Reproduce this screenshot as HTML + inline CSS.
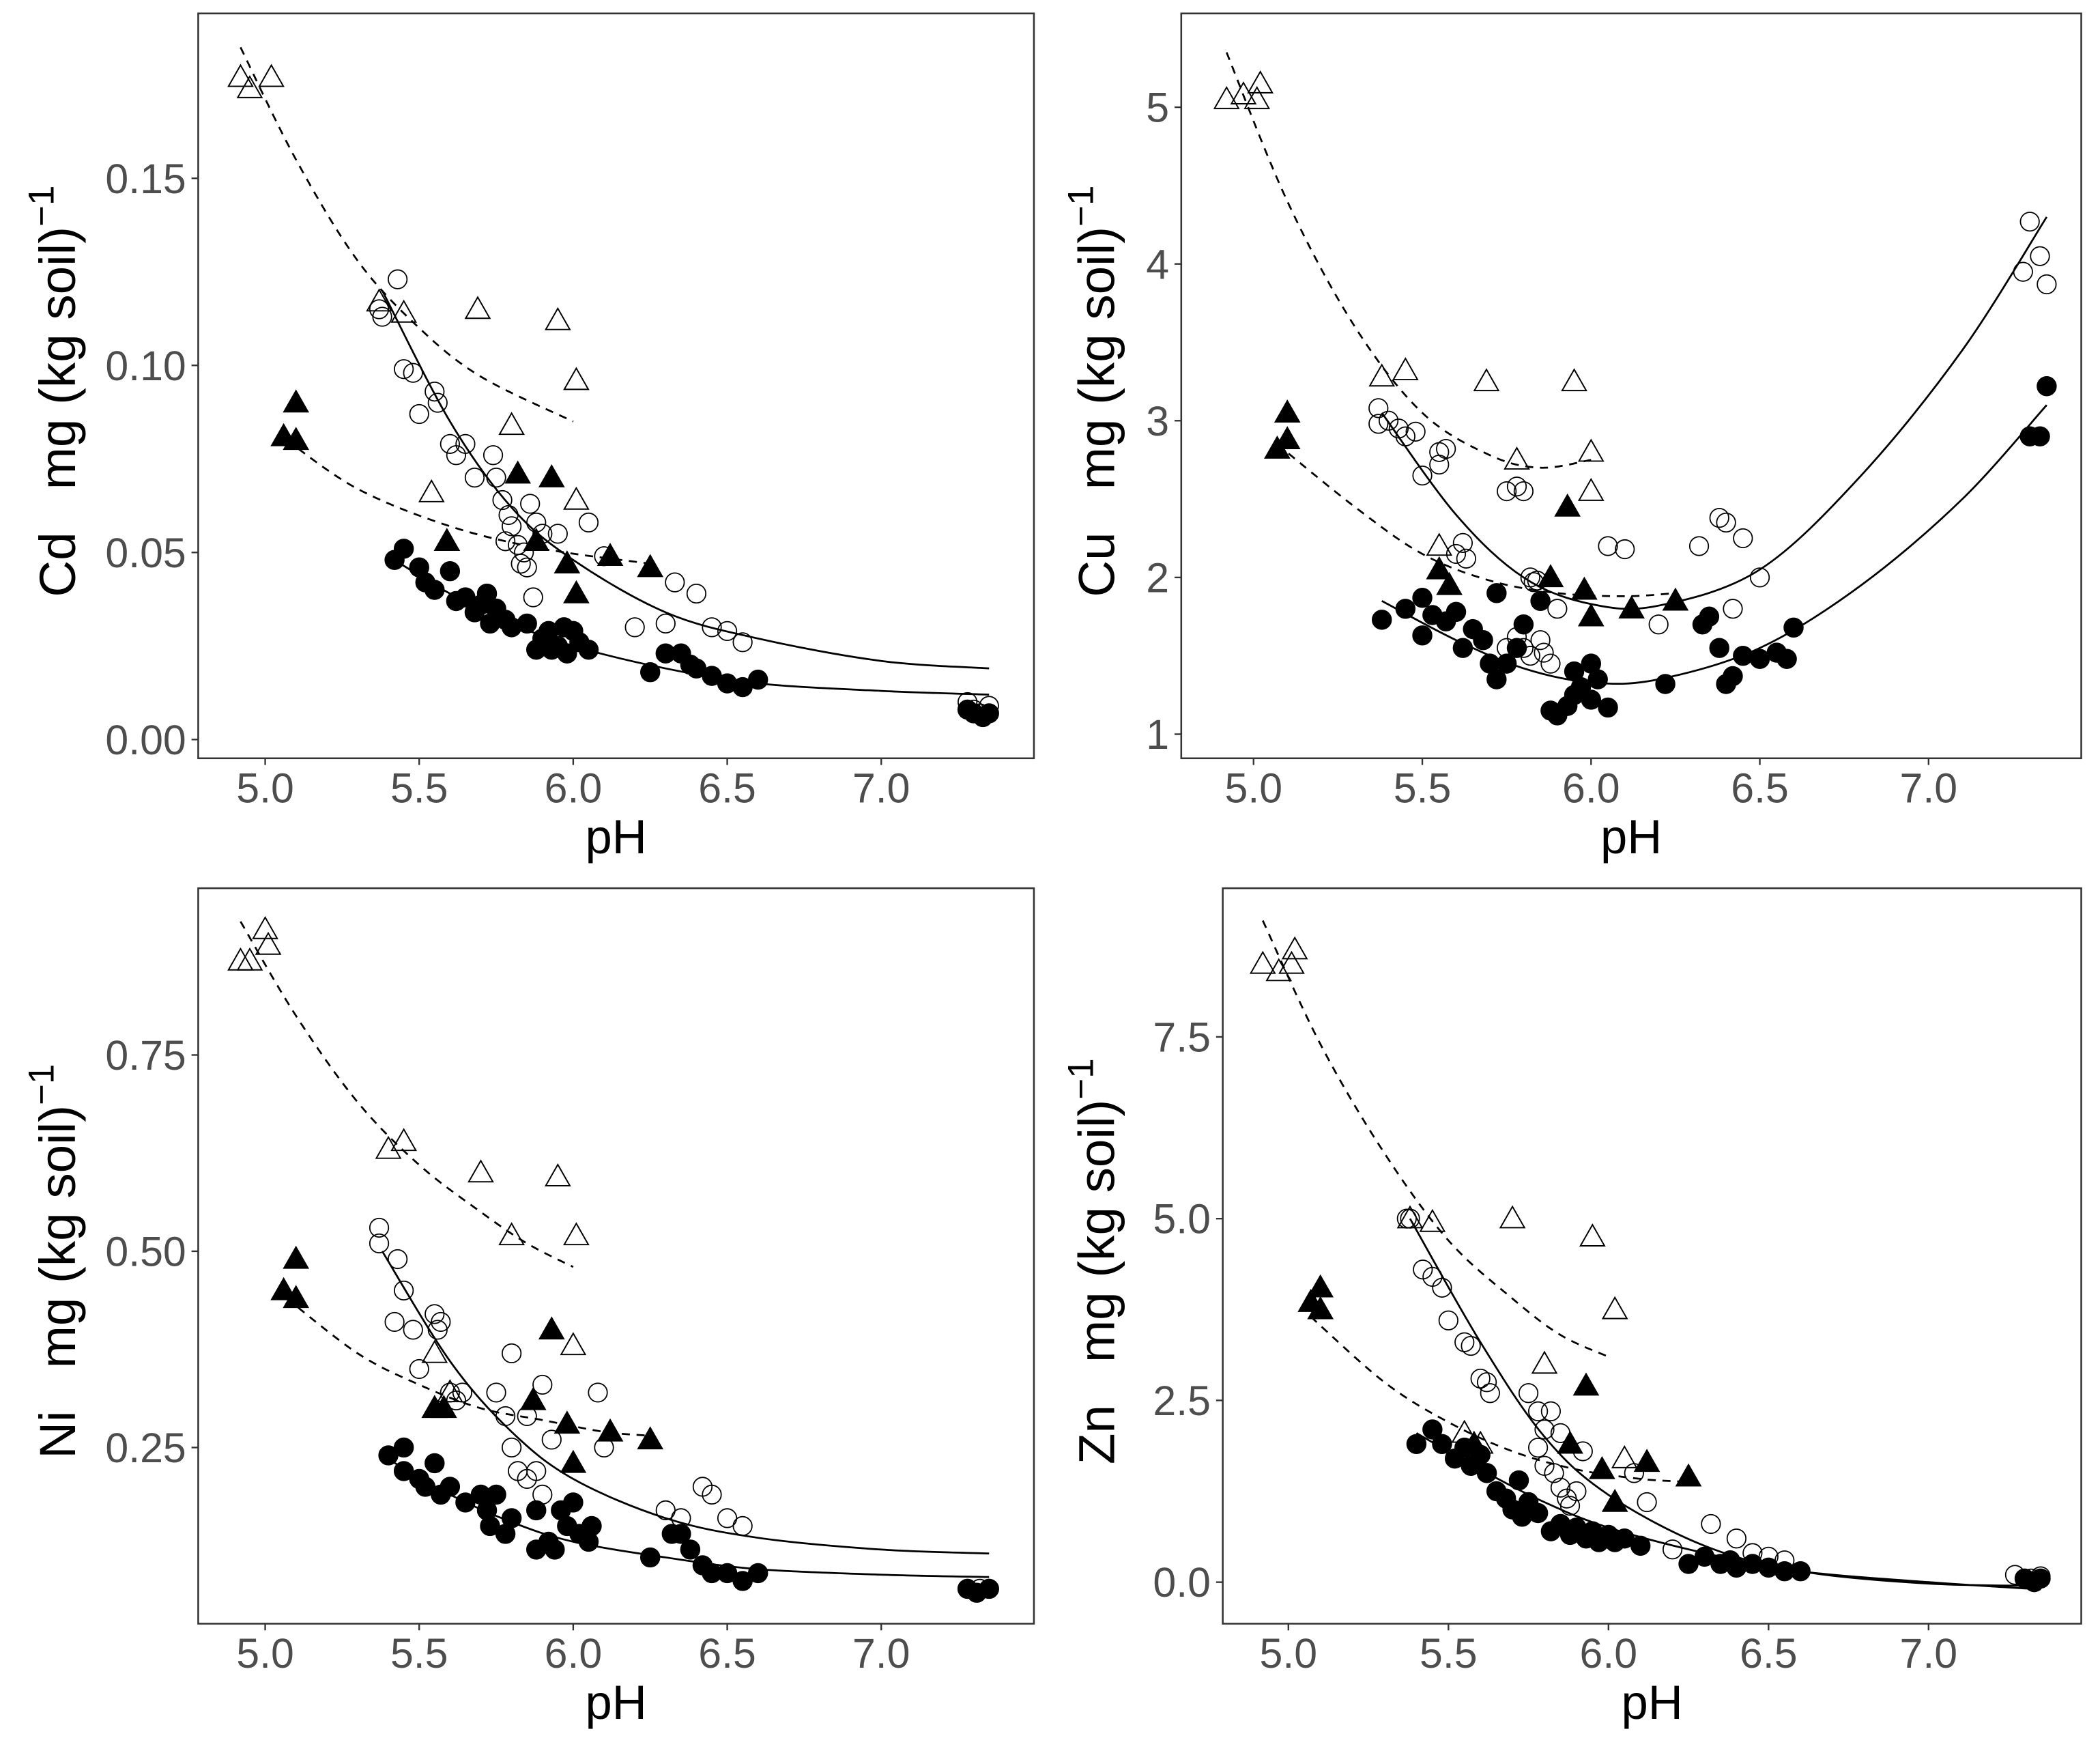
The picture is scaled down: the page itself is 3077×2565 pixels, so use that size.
<!DOCTYPE html>
<html><head><meta charset="utf-8"><style>
html,body{margin:0;padding:0;background:#fff;}
svg{display:block;}
text{font-family:"Liberation Sans",Arial,sans-serif;}
</style></head><body>
<svg id="fig" width="3077" height="2565" viewBox="0 0 1568 1307" xmlns="http://www.w3.org/2000/svg"></svg>
<script>
// ---------- Cd panel data ----------
const cdOpenTriX=[4.92,4.95,5.02,5.45,5.69,5.95,6.01,5.54,5.80,6.01,5.37];
const cdOpenTriY=[0.177,0.174,0.177,0.114,0.115,0.112,0.096,0.066,0.084,0.064,0.117];
const cdFillTriX=[5.10,5.06,5.10,5.59,5.93,5.82,5.88,5.98,6.01,6.12,6.25];
const cdFillTriY=[0.090,0.081,0.080,0.053,0.070,0.071,0.053,0.047,0.039,0.049,0.046];
const cdOpenCircX=[5.37,5.38,5.43,5.45,5.48,5.5,5.55,5.56,5.6,5.62,5.65,5.68,5.74,5.75,5.77,5.79,5.8,5.82,5.84,5.85,5.86,5.88,5.9,5.78,5.83,5.87,5.95,6.05,6.1,6.2,6.3,6.33,6.4,6.45,6.5,6.55,7.28,7.3,7.35,7.32];
const cdOpenCircY=[0.115,0.113,0.123,0.099,0.098,0.087,0.093,0.090,0.079,0.076,0.079,0.070,0.076,0.070,0.064,0.060,0.057,0.052,0.050,0.046,0.063,0.058,0.055,0.053,0.047,0.038,0.055,0.058,0.049,0.030,0.031,0.042,0.039,0.030,0.029,0.026,0.010,0.008,0.009,0.007];
const cdFillCircX=[5.42,5.45,5.5,5.52,5.55,5.6,5.62,5.65,5.68,5.7,5.72,5.73,5.75,5.78,5.8,5.85,5.88,5.9,5.92,5.95,5.97,6.0,6.02,5.93,5.98,6.05,6.25,6.3,6.35,6.38,6.4,6.45,6.5,6.55,6.6,7.3,7.33,7.35,7.28];
const cdFillCircY=[0.048,0.051,0.046,0.042,0.040,0.045,0.037,0.038,0.034,0.036,0.039,0.031,0.035,0.032,0.030,0.031,0.024,0.027,0.029,0.025,0.030,0.029,0.026,0.024,0.023,0.024,0.018,0.023,0.023,0.020,0.019,0.017,0.015,0.014,0.016,0.007,0.006,0.007,0.008];
const cdFitOpenTriX=[4.92,5.1,5.3,5.5,5.7,6.0], cdFitOpenTriY=[0.185,0.155,0.128,0.110,0.097,0.085];
const cdFitFillTriX=[5.07,5.3,5.6,5.9,6.25], cdFitFillTriY=[0.080,0.067,0.057,0.051,0.047];
const cdFitOpenCircX=[5.38,5.6,5.8,6.0,6.3,6.6,7.0,7.35], cdFitOpenCircY=[0.120,0.085,0.062,0.048,0.034,0.027,0.021,0.019];
const cdFitFillCircX=[5.4,5.6,5.8,6.0,6.3,6.6,7.0,7.35], cdFitFillCircY=[0.049,0.039,0.031,0.025,0.019,0.015,0.013,0.012];
const cdYTicks=[0,0.05,0.10,0.15], cdYTickLabels=["0.00","0.05","0.10","0.15"];

// ---------- Cu panel data ----------
const cuOpenTriX=[4.92,4.97,5.02,5.01,5.38,5.45,5.69,5.95,5.78,6.0,6.0,5.55];
const cuOpenTriY=[5.05,5.08,5.15,5.05,3.28,3.32,3.25,3.25,2.75,2.80,2.55,2.2];
const cuFillTriX=[5.07,5.1,5.1,5.55,5.58,5.88,5.93,5.98,6.0,6.12,6.25];
const cuFillTriY=[2.82,3.05,2.88,2.05,1.95,2.0,2.45,1.92,1.75,1.8,1.85];
const cuOpenCircX=[5.37,5.37,5.4,5.43,5.45,5.48,5.5,5.55,5.57,5.55,5.62,5.63,5.6,5.75,5.78,5.8,5.82,5.83,5.84,5.78,5.8,5.82,5.85,5.86,5.88,5.9,5.75,6.05,6.1,6.2,6.32,6.38,6.4,6.45,6.5,6.42,7.28,7.3,7.33,7.35];
const cuOpenCircY=[3.08,2.98,3.0,2.95,2.9,2.93,2.65,2.8,2.82,2.72,2.22,2.12,2.15,2.55,2.58,2.55,2.0,1.97,1.98,1.62,1.55,1.5,1.6,1.52,1.45,1.8,1.55,2.2,2.18,1.7,2.2,2.38,2.35,2.25,2.0,1.8,3.95,4.27,4.05,3.87];
const cuFillCircX=[5.38,5.45,5.5,5.5,5.53,5.57,5.6,5.62,5.65,5.68,5.7,5.72,5.72,5.75,5.78,5.8,5.85,5.88,5.9,5.93,5.95,5.97,6.0,6.02,5.95,6.05,6.0,6.22,6.33,6.35,6.38,6.4,6.42,6.45,6.5,6.55,6.58,6.6,7.3,7.33,7.35];
const cuFillCircY=[1.73,1.8,1.87,1.63,1.76,1.72,1.78,1.55,1.67,1.6,1.45,1.9,1.35,1.45,1.55,1.7,1.85,1.15,1.12,1.18,1.4,1.3,1.45,1.35,1.25,1.17,1.22,1.32,1.7,1.75,1.55,1.32,1.37,1.5,1.48,1.52,1.48,1.68,2.9,2.9,3.22];
const cuFitOpenTriX=[4.92,5.1,5.3,5.5,5.7,5.85,6.0], cuFitOpenTriY=[5.35,4.4,3.6,3.05,2.78,2.7,2.75];
const cuFitFillTriX=[5.07,5.3,5.5,5.7,5.9,6.1,6.25], cuFitFillTriY=[2.85,2.45,2.15,1.98,1.9,1.88,1.9];
const cuFitOpenCircX=[5.38,5.6,5.8,6.0,6.2,6.5,6.8,7.1,7.35], cuFitOpenCircY=[3.05,2.4,2.0,1.83,1.82,2.05,2.65,3.45,4.3];
const cuFitFillCircX=[5.38,5.6,5.8,6.0,6.2,6.5,6.8,7.1,7.35], cuFitFillCircY=[1.85,1.6,1.42,1.33,1.35,1.55,1.95,2.5,3.1];
const cuYTicks=[1,2,3,4,5], cuYTickLabels=["1","2","3","4","5"];

// ---------- Ni panel data ----------
const niOpenTriX=[4.92,4.95,5.01,5.0,5.4,5.45,5.7,5.95,5.8,6.01,6.0,5.55,5.6];
const niOpenTriY=[0.87,0.87,0.89,0.91,0.63,0.64,0.60,0.595,0.52,0.52,0.38,0.37,0.32];
const niFillTriX=[5.1,5.06,5.1,5.55,5.58,5.87,5.93,5.98,6.0,6.12,6.25];
const niFillTriY=[0.49,0.45,0.44,0.30,0.30,0.31,0.40,0.28,0.23,0.27,0.26];
const niOpenCircX=[5.37,5.37,5.42,5.43,5.45,5.48,5.5,5.55,5.56,5.57,5.6,5.62,5.64,5.75,5.8,5.78,5.8,5.82,5.85,5.88,5.9,5.85,5.9,5.93,6.08,6.1,6.3,6.35,6.42,6.45,6.5,6.55,7.28,7.32,7.35];
const niOpenCircY=[0.53,0.51,0.41,0.49,0.45,0.40,0.35,0.42,0.40,0.41,0.32,0.31,0.32,0.32,0.37,0.29,0.25,0.22,0.21,0.22,0.19,0.29,0.33,0.26,0.32,0.25,0.17,0.16,0.20,0.19,0.16,0.15,0.07,0.07,0.07];
const niFillCircX=[5.4,5.45,5.45,5.5,5.52,5.55,5.57,5.6,5.65,5.7,5.72,5.73,5.75,5.78,5.8,5.88,5.88,5.92,5.94,5.96,5.98,6.0,6.02,6.05,6.06,6.25,6.32,6.35,6.38,6.42,6.45,6.5,6.55,6.6,7.28,7.31,7.35];
const niFillCircY=[0.24,0.25,0.22,0.21,0.20,0.23,0.19,0.20,0.18,0.19,0.17,0.15,0.19,0.14,0.16,0.17,0.12,0.13,0.12,0.17,0.15,0.18,0.14,0.13,0.15,0.11,0.14,0.14,0.12,0.10,0.09,0.09,0.08,0.09,0.07,0.065,0.07];
const niFitOpenTriX=[4.92,5.1,5.3,5.5,5.7,5.85,6.0], niFitOpenTriY=[0.92,0.80,0.69,0.61,0.55,0.51,0.48];
const niFitFillTriX=[5.07,5.3,5.5,5.7,5.9,6.1,6.25], niFitFillTriY=[0.44,0.37,0.33,0.30,0.285,0.27,0.265];
const niFitOpenCircX=[5.38,5.6,5.8,6.0,6.3,6.6,7.0,7.35], niFitOpenCircY=[0.50,0.36,0.27,0.21,0.16,0.135,0.12,0.115];
const niFitFillCircX=[5.4,5.6,5.8,6.0,6.3,6.6,7.0,7.35], niFitFillCircY=[0.235,0.19,0.155,0.13,0.11,0.095,0.088,0.085];
const niYTicks=[0.25,0.50,0.75], niYTickLabels=["0.25","0.50","0.75"];

// ---------- Zn panel data ----------
const znOpenTriX=[4.92,4.97,5.02,5.01,5.38,5.45,5.7,5.95,5.8,6.02,5.55,5.6,6.05];
const znOpenTriY=[8.5,8.4,8.7,8.5,5.0,4.95,5.0,4.75,3.0,3.75,2.05,1.9,1.7];
const znFillTriX=[5.1,5.07,5.1,5.58,5.88,5.93,5.98,6.02,6.12,6.25];
const znFillTriY=[4.05,3.85,3.75,1.9,1.9,2.7,1.55,1.1,1.65,1.45];
const znOpenCircX=[5.37,5.38,5.42,5.45,5.48,5.5,5.55,5.57,5.6,5.62,5.63,5.75,5.78,5.8,5.82,5.85,5.8,5.83,5.85,5.87,5.88,5.9,5.92,5.78,6.08,6.12,6.2,6.32,6.4,6.45,6.5,6.55,7.27,7.32,7.35];
const znOpenCircY=[5.0,5.0,4.3,4.2,4.05,3.6,3.3,3.25,2.8,2.75,2.6,2.6,2.35,2.1,2.35,2.05,1.6,1.5,1.3,1.15,1.05,1.25,1.8,1.85,1.5,1.1,0.45,0.8,0.6,0.4,0.35,0.3,0.1,0.05,0.08];
const znFillCircX=[5.4,5.45,5.48,5.52,5.55,5.57,5.6,5.62,5.65,5.68,5.7,5.72,5.73,5.75,5.78,5.82,5.85,5.88,5.9,5.93,5.95,5.97,6.0,6.02,6.05,6.1,6.25,6.3,6.35,6.38,6.4,6.45,6.5,6.55,6.6,7.3,7.33,7.35];
const znFillCircY=[1.9,2.1,1.9,1.7,1.85,1.6,1.75,1.5,1.25,1.15,1.0,1.4,0.9,1.1,0.95,0.7,0.8,0.65,0.75,0.6,0.7,0.55,0.65,0.55,0.6,0.5,0.25,0.35,0.25,0.3,0.2,0.25,0.2,0.15,0.15,0.05,0.0,0.05];
const znFitOpenTriX=[4.92,5.1,5.3,5.5,5.7,5.85,6.0], znFitOpenTriY=[9.1,7.4,5.9,4.7,3.9,3.4,3.1];
const znFitFillTriX=[5.07,5.3,5.5,5.7,5.9,6.1,6.25], znFitFillTriY=[3.65,2.75,2.2,1.8,1.55,1.42,1.38];
const znFitOpenCircX=[5.38,5.6,5.8,6.0,6.3,6.6,7.0,7.35], znFitOpenCircY=[5.0,3.3,2.0,1.2,0.5,0.15,-0.02,-0.05];
const znFitFillCircX=[5.4,5.6,5.8,6.0,6.3,6.6,7.0,7.35], znFitFillCircY=[2.05,1.55,1.1,0.75,0.4,0.15,0.0,-0.1];
const znYTicks=[0,2.5,5.0,7.5], znYTickLabels=["0.0","2.5","5.0","7.5"];

const xTicks=[5.0,5.5,6.0,6.5,7.0], xTickLabels=["5.0","5.5","6.0","6.5","7.0"];

const NS="http://www.w3.org/2000/svg";
const svg=document.getElementById('fig');
function mk(tag,attrs,parent){const e=document.createElementNS(NS,tag);for(const k in attrs)e.setAttribute(k,attrs[k]);(parent||svg).appendChild(e);return e;}

function smoothPath(pts){
  let d="M"+pts[0][0]+","+pts[0][1];
  for(let i=0;i<pts.length-1;i++){
    const p0=pts[Math.max(i-1,0)],p1=pts[i],p2=pts[i+1],p3=pts[Math.min(i+2,pts.length-1)];
    const c1x=p1[0]+(p2[0]-p0[0])/6,c1y=p1[1]+(p2[1]-p0[1])/6;
    const c2x=p2[0]-(p3[0]-p1[0])/6,c2y=p2[1]-(p3[1]-p1[1])/6;
    d+=" C"+c1x+","+c1y+" "+c2x+","+c2y+" "+p2[0]+","+p2[1];
  }
  return d;
}

function panel(cfg){
  const g=mk('g',{});
  
  
  const sx=v=>cfg.x0+(v-5)*cfg.xs;
  const sy=v=>cfg.y0-(v-cfg.yb)*cfg.ys;
  const frame=mk('rect',{x:cfg.L,y:cfg.T,width:cfg.R-cfg.L,height:cfg.B-cfg.T,fill:'none',stroke:'#333','stroke-width':1.3},g);
  
  
  cfg.yt.forEach((v,i)=>{
    const y=sy(v);
    const tk=mk('line',{x1:cfg.L-5,x2:cfg.L,y1:y,y2:y,stroke:'#333','stroke-width':1.2},g);
    
    
    const t=mk('text',{x:cfg.L-9,y:y+11,'text-anchor':'end','font-size':31,fill:'#4d4d4d'},g);
    t.textContent=cfg.ytl[i];
    
    
  });
  xTicks.forEach((v,i)=>{
    const x=sx(v);
    const tk=mk('line',{x1:x,x2:x,y1:cfg.B,y2:cfg.B+5,stroke:'#333','stroke-width':1.2},g);
    
    
    const t=mk('text',{x:x,y:cfg.B+33,'text-anchor':'middle','font-size':31,fill:'#4d4d4d'},g);
    t.textContent=xTickLabels[i];
    
    
  });
  const xt=mk('text',{x:(cfg.L+cfg.R)/2,y:cfg.B+71,'text-anchor':'middle','font-size':36,fill:'#000'},g);
  xt.textContent='pH';
  
  
  const yt=mk('text',{transform:'translate('+cfg.ytx+','+((cfg.T+cfg.B)/2+4)+') rotate(-90)','text-anchor':'middle','font-size':38,fill:'#000'},g);
  yt.innerHTML=cfg.el+'&#160;&#160;&#160;mg&#160;(kg&#160;soil)<tspan dy="-16" font-size="27">−1</tspan>';
  
  
  cfg.fits.forEach(f=>{
    const pts=f.x.map((v,i)=>[sx(v),sy(f.y[i])]);
    const p=mk('path',{d:smoothPath(pts),fill:'none',stroke:'#000','stroke-width':1.4,'stroke-dasharray':f.dash?'6,5':'none'},g);
    
    
  });
  cfg.pts.forEach(s=>{
    s.x.forEach((v,i)=>{
      const cx=sx(v),cy=sy(s.y[i]);
      let e;
      if(s.shape==='tri'){
        const h=15,w=9;
        e=mk('polygon',{points:(cx)+','+(cy-h*0.6)+' '+(cx-w)+','+(cy+h*0.45)+' '+(cx+w)+','+(cy+h*0.45),fill:s.fill?'#000':'none',stroke:'#000','stroke-width':1},g);
      }else{
        e=mk('circle',{cx:cx,cy:cy,r:7,fill:s.fill?'#000':'none',stroke:'#000','stroke-width':s.fill?1:0.9},g);
      }
      
      
    });
  });
}

panel({name:'cd',el:'Cd',L:148,R:772,T:10,B:566,x0:198,xs:230,y0:552,yb:0,ys:2793,yt:cdYTicks,ytl:cdYTickLabels,ytx:56,
 fits:[{x:cdFitOpenTriX,y:cdFitOpenTriY,dash:true,name:'fit-open-triangle'},{x:cdFitFillTriX,y:cdFitFillTriY,dash:true,name:'fit-filled-triangle'},{x:cdFitOpenCircX,y:cdFitOpenCircY,dash:false,name:'fit-open-circle'},{x:cdFitFillCircX,y:cdFitFillCircY,dash:false,name:'fit-filled-circle'}],
 pts:[{x:cdOpenCircX,y:cdOpenCircY,shape:'c',fill:false,name:'open-circle-point'},{x:cdFillCircX,y:cdFillCircY,shape:'c',fill:true,name:'filled-circle-point'},{x:cdOpenTriX,y:cdOpenTriY,shape:'tri',fill:false,name:'open-triangle-point'},{x:cdFillTriX,y:cdFillTriY,shape:'tri',fill:true,name:'filled-triangle-point'}]});
panel({name:'cu',el:'Cu',L:882,R:1554,T:10,B:566,x0:936,xs:252,y0:548,yb:1,ys:117,yt:cuYTicks,ytl:cuYTickLabels,ytx:832,
 fits:[{x:cuFitOpenTriX,y:cuFitOpenTriY,dash:true,name:'fit-open-triangle'},{x:cuFitFillTriX,y:cuFitFillTriY,dash:true,name:'fit-filled-triangle'},{x:cuFitOpenCircX,y:cuFitOpenCircY,dash:false,name:'fit-open-circle'},{x:cuFitFillCircX,y:cuFitFillCircY,dash:false,name:'fit-filled-circle'}],
 pts:[{x:cuOpenCircX,y:cuOpenCircY,shape:'c',fill:false,name:'open-circle-point'},{x:cuFillCircX,y:cuFillCircY,shape:'c',fill:true,name:'filled-circle-point'},{x:cuOpenTriX,y:cuOpenTriY,shape:'tri',fill:false,name:'open-triangle-point'},{x:cuFillTriX,y:cuFillTriY,shape:'tri',fill:true,name:'filled-triangle-point'}]});
panel({name:'ni',el:'Ni',L:148,R:772,T:663,B:1212,x0:198,xs:230,y0:1227,yb:0,ys:586,yt:niYTicks,ytl:niYTickLabels,ytx:56,
 fits:[{x:niFitOpenTriX,y:niFitOpenTriY,dash:true,name:'fit-open-triangle'},{x:niFitFillTriX,y:niFitFillTriY,dash:true,name:'fit-filled-triangle'},{x:niFitOpenCircX,y:niFitOpenCircY,dash:false,name:'fit-open-circle'},{x:niFitFillCircX,y:niFitFillCircY,dash:false,name:'fit-filled-circle'}],
 pts:[{x:niOpenCircX,y:niOpenCircY,shape:'c',fill:false,name:'open-circle-point'},{x:niFillCircX,y:niFillCircY,shape:'c',fill:true,name:'filled-circle-point'},{x:niOpenTriX,y:niOpenTriY,shape:'tri',fill:false,name:'open-triangle-point'},{x:niFillTriX,y:niFillTriY,shape:'tri',fill:true,name:'filled-triangle-point'}]});
panel({name:'zn',el:'Zn',L:913,R:1554,T:663,B:1212,x0:962,xs:239,y0:1181,yb:0,ys:54.27,yt:znYTicks,ytl:znYTickLabels,ytx:832,
 fits:[{x:znFitOpenTriX,y:znFitOpenTriY,dash:true,name:'fit-open-triangle'},{x:znFitFillTriX,y:znFitFillTriY,dash:true,name:'fit-filled-triangle'},{x:znFitOpenCircX,y:znFitOpenCircY,dash:false,name:'fit-open-circle'},{x:znFitFillCircX,y:znFitFillCircY,dash:false,name:'fit-filled-circle'}],
 pts:[{x:znOpenCircX,y:znOpenCircY,shape:'c',fill:false,name:'open-circle-point'},{x:znFillCircX,y:znFillCircY,shape:'c',fill:true,name:'filled-circle-point'},{x:znOpenTriX,y:znOpenTriY,shape:'tri',fill:false,name:'open-triangle-point'},{x:znFillTriX,y:znFillTriY,shape:'tri',fill:true,name:'filled-triangle-point'}]});
</script>
</body></html>
